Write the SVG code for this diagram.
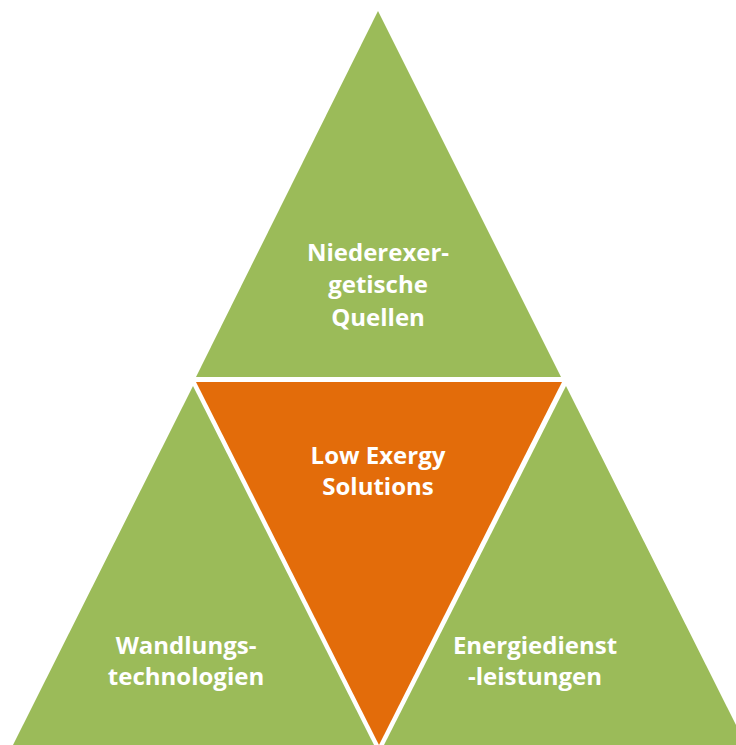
<svg xmlns="http://www.w3.org/2000/svg" width="736" height="745" viewBox="0 0 736 745">
<style>
.g{fill:#9BBB59}
.o{fill:#E36C0A}
.t{fill:#fff;font-family:"Open Sans","Liberation Sans",sans-serif;font-weight:bold;font-size:24px;text-anchor:middle}
</style>
<rect width="736" height="745" fill="#fff"/>
<g id="top">
<polygon class="g" points="378,11 196,377 561,377"/>
<text class="t" x="378" y="261">Niederexer-</text>
<text class="t" x="378" y="293">getische</text>
<text class="t" x="378" y="326">Quellen</text>
</g>
<g id="center">
<polygon class="o" points="196,382 562,382 379,745"/>
<text class="t" x="378" y="464">Low Exergy</text>
<text class="t" x="378" y="495">Solutions</text>
</g>
<g id="left">
<polygon class="g" points="193,386 13,745 374,745"/>
<text class="t" x="186" y="654">Wandlungs-</text>
<text class="t" x="186" y="685">technologien</text>
</g>
<g id="right">
<polygon class="g" points="566,386 384,745 746,745"/>
<text class="t" x="535" y="654">Energiedienst</text>
<text class="t" x="535" y="685">-leistungen</text>
</g>
<g id="connectors"/>
</svg>
